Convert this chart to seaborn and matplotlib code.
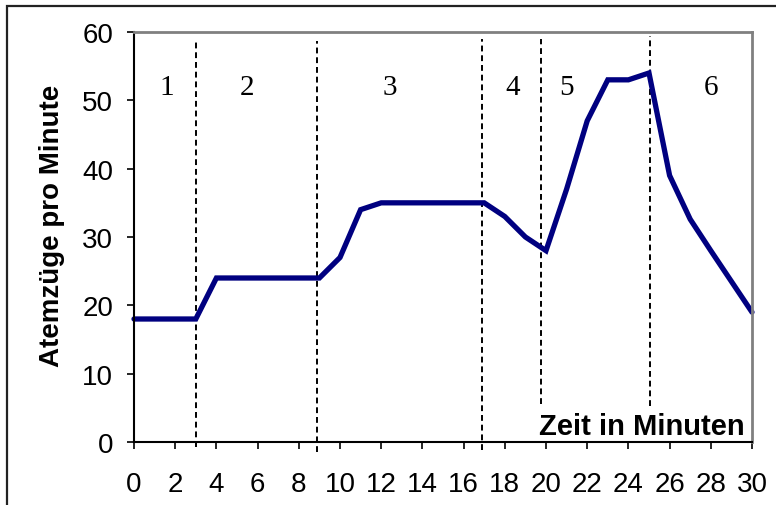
import numpy as np
import pandas as pd
import matplotlib
matplotlib.use("Agg")
import matplotlib.pyplot as plt
import seaborn as sns
from matplotlib.patches import Rectangle

# data
minutes = list(range(0, 31))
breaths = [18, 18, 18, 18, 24, 24, 24, 24, 24, 24,
           27, 34, 35, 35, 35, 35, 35, 35, 33, 30,
           28, 37, 47, 53, 53, 54, 39, 32.6, 28, 23.5, 19]

phase_lines = [3.0, 8.87, 16.88, 19.74, 25.05]
phase_tops = [59.0, 58.7, 59.0, 59.0, 59.4]
phase_bottoms = [-0.7, -1.5, -1.2, 5.6, 5.3]
phase_labels = ["1", "2", "3", "4", "5", "6"]
phase_label_x = [1.6, 5.5, 12.4, 18.4, 21.0, 28.0]

df = pd.DataFrame({"Zeit": minutes, "Atem": breaths})

sns.set_style("white")
plt.rcParams["font.family"] = ["Liberation Sans", "DejaVu Sans"]
plt.rcParams["text.color"] = "black"
plt.rcParams["axes.labelcolor"] = "black"

fig = plt.figure(figsize=(7.76, 5.06), dpi=100)
ax = fig.add_axes([134 / 776, 1 - 443 / 506, (752 - 134) / 776, (443 - 33) / 506])

# outer frame (runs off the right and bottom edge)
fig.patches.append(Rectangle((7 / 776, -0.2), 1.2, 1.2 - 7 / 506,
                             transform=fig.transFigure, fill=False,
                             edgecolor="#222222", linewidth=1.6, zorder=0))

sns.lineplot(data=df, x="Zeit", y="Atem", ax=ax, color="#000080",
             linewidth=3.8, solid_joinstyle="miter", clip_on=False)

for xv, top, bot in zip(phase_lines, phase_tops, phase_bottoms):
    ax.plot([xv, xv], [bot, top], color="black", linewidth=1.4,
            linestyle=(0, (3, 2)), clip_on=False, zorder=1)

for lab, xv in zip(phase_labels, phase_label_x):
    ax.text(xv, 52, lab, ha="center", va="center", fontsize=21,
            family=["Liberation Serif", "DejaVu Serif"])

ax.text(29.65, 2.4, "Zeit in Minuten", ha="right", va="center",
        fontsize=21, fontweight="bold")

ax.set_xlim(0, 30)
ax.set_ylim(0, 60)
ax.set_xticks(range(0, 31, 2))
ax.set_yticks(range(0, 61, 10))
ax.set_xlabel("")
ax.set_ylabel("Atemzüge pro Minute", fontsize=20, fontweight="bold", va="center")
ax.yaxis.set_label_coords(-0.133, 0.53)

ax.tick_params(axis="both", which="major", direction="out", length=5, width=1.2,
               labelsize=20, colors="black", bottom=True, left=True)
ax.tick_params(axis="x", pad=16)
ax.tick_params(axis="y", pad=10)

for side in ["left", "bottom"]:
    ax.spines[side].set_color("black")
    ax.spines[side].set_linewidth(1.5)
for side in ["top", "right"]:
    ax.spines[side].set_color("#808080")
    ax.spines[side].set_linewidth(2)

fig.savefig("out.png", dpi=100)
